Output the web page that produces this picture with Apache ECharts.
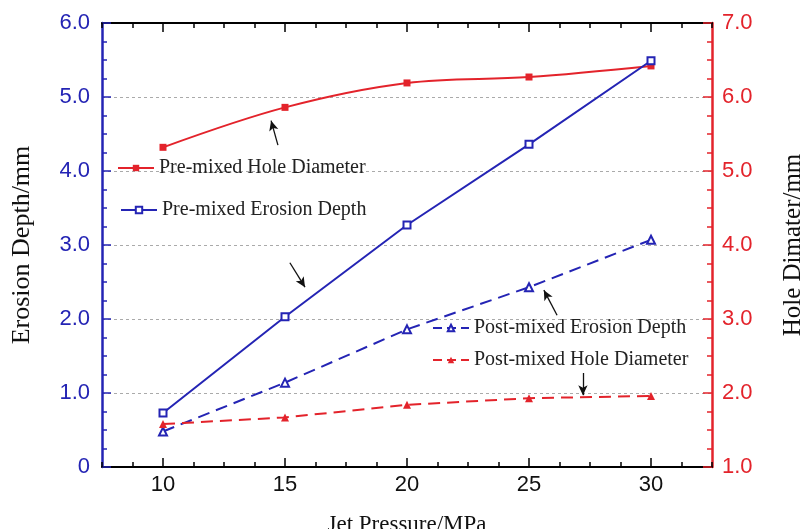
<!DOCTYPE html>
<html>
<head>
<meta charset="utf-8">
<script src="https://cdn.jsdelivr.net/npm/echarts@6/dist/echarts.min.js"></script>
<style>html,body{margin:0;padding:0;background:#fff}#c{width:804px;height:529px}</style>
</head>
<body>
<div id="c"></div>
<script>
const pressure = [10, 15, 20, 25, 30];
const preErosion = [0.73, 2.03, 3.27, 4.36, 5.49];
const preHole = [5.32, 5.86, 6.19, 6.27, 6.42];
const postErosion = [0.48, 1.14, 1.86, 2.43, 3.07];
const postHole = [1.58, 1.67, 1.84, 1.93, 1.96];
const xMajorTicks = [10, 15, 20, 25, 30];
const seriesNames = ['Pre-mixed Hole Diameter', 'Pre-mixed Erosion Depth', 'Post-mixed Erosion Depth', 'Post-mixed Hole Diameter'];
// annotation arrows [tailX, tailY, headX, headY] in left-axis data units
const arrows = [
  [14.71, 4.35, 14.43, 4.68],
  [15.20, 2.76, 15.82, 2.43],
  [26.15, 2.05, 25.61, 2.39],
  [27.21, 1.27, 27.21, 0.97]
];

const BLUE = '#2424b4';
const RED = '#e3232b';
const serif = 'Liberation Serif';
const sans = 'Liberation Sans';
const pairs = (ys) => pressure.map((x, i) => [x, ys[i]]);

function xAxisDef(pos, major, labels) {
  return {
    type: 'value', position: pos, min: 7.5, max: 32.5,
    interval: 1.25,
    axisLine: { show: !major, lineStyle: { color: '#000', width: 2 } },
    axisTick: major ? { show: true, inside: true, length: 9, customValues: xMajorTicks, lineStyle: { color: '#000', width: 1.5 } }
                    : { show: true, inside: true, length: 5, lineStyle: { color: '#000', width: 1.5 } },
    axisLabel: labels ? { show: true, customValues: xMajorTicks, fontSize: 22, fontFamily: sans, color: '#111', margin: 7 } : { show: false },
    splitLine: { show: false },
    name: labels ? 'Jet Pressure/MPa' : '',
    nameLocation: 'middle', nameGap: 46,
    nameTextStyle: { fontFamily: serif, fontSize: 23, color: '#111' }
  };
}

const legendDefs = [
  { name: seriesNames[0], left: 117, top: 158, dash: 'solid' },
  { name: seriesNames[1], left: 120, top: 200, dash: 'solid' },
  { name: seriesNames[2], left: 432, top: 318, dash: [9, 5] },
  { name: seriesNames[3], left: 432, top: 350, dash: [9, 5] }
];

const option = {
  animation: false,
  backgroundColor: '#fff',
  grid: { left: 102, right: 92, top: 23, bottom: 62, containLabel: false, outerBoundsMode: 'none' },
  legend: legendDefs.map(d => ({
    data: [d.name], left: d.left, top: d.top, selectedMode: false,
    itemWidth: 36, itemHeight: 8, itemGap: 4, padding: 0,
    lineStyle: { type: d.dash, width: 2 },
    textStyle: { fontFamily: serif, fontSize: 20, color: '#222' }
  })),
  xAxis: [
    xAxisDef('bottom', false, true),
    xAxisDef('bottom', true, false),
    xAxisDef('top', false, false),
    xAxisDef('top', true, false)
  ],
  yAxis: [
    {
      type: 'value', position: 'left', min: 0, max: 6, interval: 1,
      axisLine: { show: true, lineStyle: { color: BLUE, width: 2.5 } },
      axisTick: { show: true, inside: true, length: 9, lineStyle: { color: BLUE, width: 1.5 } },
      minorTick: { show: true, splitNumber: 4, length: 5, lineStyle: { color: BLUE, width: 1.5 } },
      axisLabel: { color: BLUE, fontSize: 22, fontFamily: sans, margin: 12, formatter: v => v === 0 ? '0' : v.toFixed(1) },
      splitLine: { show: true, lineStyle: { color: '#aaaaaa', width: 1, type: [3, 3] } },
      name: 'Erosion Depth/mm', nameLocation: 'middle', nameGap: 67, nameRotate: 90,
      nameTextStyle: { fontFamily: serif, fontSize: 26, color: '#111' }
    },
    {
      type: 'value', position: 'right', min: 1, max: 7, interval: 1,
      axisLine: { show: true, lineStyle: { color: RED, width: 2.5 } },
      axisTick: { show: true, inside: true, length: 9, lineStyle: { color: RED, width: 1.5 } },
      minorTick: { show: true, splitNumber: 4, length: 5, lineStyle: { color: RED, width: 1.5 } },
      axisLabel: { color: RED, fontSize: 22, fontFamily: sans, margin: 10, formatter: v => v.toFixed(1) },
      splitLine: { show: false },
      name: 'Hole Dimater/mm', nameLocation: 'middle', nameGap: 69, nameRotate: 90,
      nameTextStyle: { fontFamily: serif, fontSize: 25, color: '#111' }
    }
  ],
  series: [
    {
      name: seriesNames[0], type: 'line', xAxisIndex: 0, yAxisIndex: 1,
      data: pairs(preHole), smooth: 0.35,
      symbol: 'rect', symbolSize: 7,
      lineStyle: { color: RED, width: 2 }, itemStyle: { color: RED }
    },
    {
      name: seriesNames[1], type: 'line', xAxisIndex: 0, yAxisIndex: 0,
      data: pairs(preErosion),
      symbol: 'emptyRect', symbolSize: 7,
      lineStyle: { color: BLUE, width: 2 }, itemStyle: { color: BLUE, borderColor: '#5a5ad0', borderWidth: 1 },
      markLine: {
        silent: true, symbol: ['none', 'arrow'], symbolSize: [7, 10],
        label: { show: false },
        lineStyle: { color: '#111', width: 1.3, type: 'solid' },
        data: arrows.map(a => [{ coord: [a[0], a[1]] }, { coord: [a[2], a[3]] }])
      }
    },
    {
      name: seriesNames[2], type: 'line', xAxisIndex: 0, yAxisIndex: 0,
      data: pairs(postErosion),
      symbol: 'emptyTriangle', symbolSize: 8,
      lineStyle: { color: BLUE, width: 2, type: [12, 7] }, itemStyle: { color: BLUE, borderColor: '#5a5ad0', borderWidth: 1 }
    },
    {
      name: seriesNames[3], type: 'line', xAxisIndex: 0, yAxisIndex: 1,
      data: pairs(postHole),
      symbol: 'triangle', symbolSize: 8,
      lineStyle: { color: RED, width: 2, type: [12, 7] }, itemStyle: { color: RED }
    }
  ]
};
echarts.init(document.getElementById('c')).setOption(option);
</script>
</body>
</html>
